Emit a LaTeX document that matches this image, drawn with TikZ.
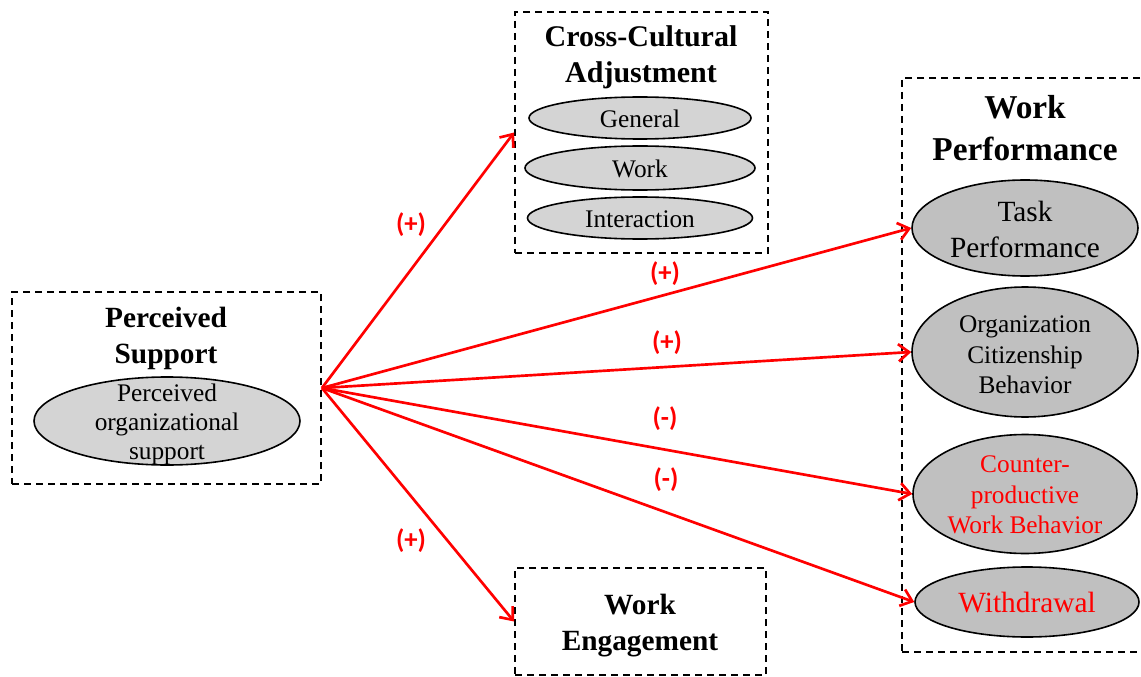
\documentclass[tikz,border=0pt]{standalone}
\usepackage{fontspec}
\setmainfont{Liberation Serif}
\newfontfamily\labfont{Carlito}
\usetikzlibrary{shapes.geometric,arrows.meta}
\definecolor{lgray}{HTML}{D4D4D4}
\definecolor{mgray}{HTML}{C0C0C0}
\begin{document}
\begin{tikzpicture}[x=0.75pt,y=-0.75pt,
  dbox/.style={draw=black,line width=1.4pt,dash pattern=on 5.5pt off 3.5pt,inner sep=0pt,rectangle},
  ell/.style={draw=black,line width=1.2pt,ellipse,inner sep=0pt},
  lightell/.style={ell,fill=lgray},
  darkell/.style={ell,fill=mgray},
  heading/.style={align=center,inner sep=0pt,font=\bfseries},
  etext/.style={align=center,inner sep=0pt},
  sign/.style={text=red,inner sep=0pt,font={\labfont\bfseries\fontsize{20}{24}\selectfont}},
  link/.style={draw=red,line width=2pt,-{Straight Barb[length=8pt,width=13pt,line width=2pt]}}
]
\useasboundingbox (0,0) rectangle (1141,677);

% boxes
\node[dbox,minimum width=231.75pt,minimum height=144pt] (ps) at (166.5,388) {};
\node[dbox,minimum width=189.75pt,minimum height=180.75pt] (cca) at (641.5,132.5) {};
\node[dbox,minimum width=193.5pt,minimum height=430.5pt] (wp) at (1031,365) {};
\node[dbox,minimum width=188.25pt,minimum height=80.25pt] (we) at (640.5,621.5) {};

% headings
\node[heading,font={\bfseries\fontsize{22}{27}\selectfont}] (psh) at (166,338) {Perceived\\Support};
\node[heading,font={\bfseries\fontsize{22.5}{27}\selectfont}] (ccah) at (641,57) {Cross-Cultural\\Adjustment};
\node[heading,font={\bfseries\fontsize{25}{31}\selectfont}] (wph) at (1025,128) {Work\\Performance};
\node[heading,font={\bfseries\fontsize{22}{27}\selectfont}] (weh) at (640,626) {Work\\Engagement};

% ellipses
\node[lightell,minimum width=199.5pt,minimum height=66pt] (pos) at (167,421) {};
\node[etext,font={\fontsize{19}{21.75}\selectfont}] (post) at (167,424) {Perceived\\organizational\\support};

\node[lightell,minimum width=166.5pt,minimum height=31.5pt] (gen) at (640,118) {};
\node[etext,font={\fontsize{19}{23}\selectfont}] (gent) at (640,119) {General};
\node[lightell,minimum width=172.5pt,minimum height=33pt] (wrk) at (640,168) {};
\node[etext,font={\fontsize{19}{23}\selectfont}] (wrkt) at (640,168.5) {Work};
\node[lightell,minimum width=168.75pt,minimum height=31.5pt] (int) at (640,218) {};
\node[etext,font={\fontsize{19}{23}\selectfont}] (intt) at (640,219) {Interaction};

\node[darkell,minimum width=169.5pt,minimum height=72pt] (task) at (1025,228) {};
\node[etext,font={\fontsize{22}{27}\selectfont}] (taskt) at (1025,229) {Task\\Performance};
\node[darkell,minimum width=169.5pt,minimum height=97.5pt] (ocb) at (1025,352) {};
\node[etext,font={\fontsize{19}{23}\selectfont}] (ocbt) at (1025,355) {Organization\\Citizenship\\Behavior};
\node[darkell,minimum width=168pt,minimum height=89.25pt] (cwb) at (1025,494) {};
\node[etext,text=red,font={\fontsize{19}{23}\selectfont}] (cwbt) at (1025,495) {Counter-\\productive\\Work Behavior};
\node[darkell,minimum width=168pt,minimum height=52.5pt] (wd) at (1027,602) {};
\node[etext,text=red,font={\fontsize{22}{27}\selectfont}] (wdt) at (1027,603) {Withdrawal};

% connectors
\draw[link] (ps.east) -- (cca.west);
\draw[link] (ps.east) -- (task.west);
\draw[link] (ps.east) -- (ocb.west);
\draw[link] (ps.east) -- (cwb.west);
\draw[link] (ps.east) -- (wd.west);
\draw[link] (ps.east) -- (we.west);

% signs
\node[sign] (s1) at (411,225) {(+)};
\node[sign] (s2) at (665,274) {(+)};
\node[sign] (s3) at (667,343) {(+)};
\node[sign] (s4) at (665,419) {(-)};
\node[sign] (s5) at (666,480) {(-)};
\node[sign] (s6) at (411,541) {(+)};
\end{tikzpicture}
\end{document}
